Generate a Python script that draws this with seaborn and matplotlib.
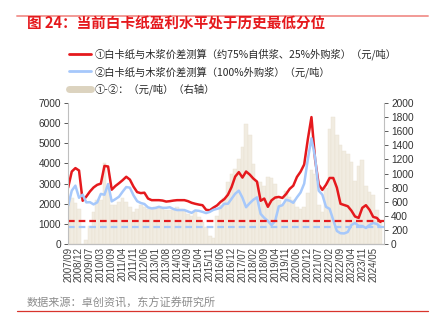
import matplotlib
matplotlib.use("Agg")
import matplotlib.pyplot as plt
from matplotlib.lines import Line2D
import numpy as np
import pandas as pd
import seaborn as sns

# ---------------- data ----------------
tick_labels = ["2007/09", "2008/12", "2009/07", "2010/03", "2010/09", "2011/04", "2011/11",
               "2012/06", "2013/01", "2013/08", "2014/03", "2014/09", "2015/04", "2015/11",
               "2016/06", "2016/12", "2017/07", "2018/02", "2018/09", "2019/04", "2019/11",
               "2020/06", "2020/12", "2021/07", "2022/02", "2022/09", "2023/04", "2023/11",
               "2024/05"]

spread_self = [2800, 3600, 3770, 3650, 2150, 2360, 2610, 2810, 2940, 3000,
               3880, 3850, 2700, 2880, 3020, 3170, 3340, 3200, 2850, 2580,
               2530, 2550, 2260, 2180, 2180, 2180, 2160, 2110, 2130, 2160,
               2180, 2180, 2180, 2130, 2050, 2000, 1960, 1930, 1700, 1680,
               1810, 1920, 2100, 2230, 2450, 2830, 3350, 3570, 3300, 3600,
               3450, 3250, 3100, 2150, 2260, 1850, 2170, 2310, 2340, 2290,
               2480, 2740, 2900, 3330, 3590, 3950, 5200, 6300, 4200, 2950,
               2690, 2940, 3280, 3280, 2800, 2000, 1940, 1880, 1660, 1370,
               1300, 1800, 1930, 1700, 1350, 1300, 1100]

spread_buy = [1900, 2650, 2900, 2300, 2450, 2070, 2080, 1970, 2070, 2490,
              2450, 2980, 2120, 2230, 2350, 2600, 2830, 2800, 2420, 2130,
              2040, 1990, 1820, 1770, 1790, 1850, 1800, 1800, 1830, 1740,
              1690, 1690, 1690, 1620, 1550, 1670, 1650, 1600, 1540, 1600,
              1700, 1750, 1800, 2000, 2000, 2250, 2500, 2650, 2300, 1830,
              2030, 2200, 2320, 1500, 1300, 1150, 940, 1150, 1870, 1930,
              2200, 2150, 2050, 2320, 2560, 3000, 4200, 5250, 4300, 2650,
              2450, 1850, 1750, 1200, 650, 540, 530, 600, 950, 1050,
              900, 900, 800, 950, 1050, 1000, 850]

spread_diff = [580, 650, 580, 500, -30, 60, 260, 460, 620, 620,
               1150, 800, 550, 550, 600, 650, 600, 520, 450, 500,
               550, 530, 500, 510, 530, 510, 500, 490, 480, 500,
               530, 500, 470, 420, 400, 450, 380, 310, 240, 120,
               80, 400, 550, 660, 880, 990, 1070, 1200, 1380, 1700,
               1550, 1130, 880, 880, 820, 950, 930, 850, 620, 560,
               750, 670, 620, 530, 500, 520, 720, 1050, 1000, 550,
               460, 800, 1630, 1800, 1550, 1400, 1320, 1270, 1160, 900,
               1100, 1190, 820, 740, 700, 480, 320]

current_self = 1130
current_buy = 860

# ---------------- style ----------------
sns.set_theme(style="white")
plt.rcParams["font.family"] = ["Liberation Sans", "Noto Sans CJK SC", "DejaVu Sans"]
plt.rcParams["axes.unicode_minus"] = False

RED = "#e5191d"
BLUE = "#a6c8fb"
BEIGE = "#f1ece1"
BEIGE_LEG = "#dcd3bf"
GREY = "#404040"

n = len(spread_self)
df = pd.DataFrame({"idx": np.arange(n), "self": spread_self, "buy": spread_buy, "diff": spread_diff})

fig = plt.figure(figsize=(4.34, 3.29), dpi=100)
ax1 = fig.add_axes([0.157, 0.258, 0.728, 0.429])
ax2 = ax1.twinx()

# bars on right axis
sns.barplot(data=df, x="idx", y="diff", ax=ax2, color=BEIGE, width=1.0,
            saturation=1, linewidth=0.3, edgecolor="#e9e2d2", native_scale=True)

# lines on left axis
sns.lineplot(data=df, x="idx", y="self", ax=ax1, color=RED, linewidth=1.8)
sns.lineplot(data=df, x="idx", y="buy", ax=ax1, color=BLUE, linewidth=1.8)
ax1.axhline(current_self, color=RED, linewidth=1.6, linestyle=(0, (3, 1.8)))
ax1.axhline(current_buy, color=BLUE, linewidth=1.6, linestyle=(0, (3, 1.8)))

ax1.set_zorder(ax2.get_zorder() + 1)
ax1.patch.set_visible(False)

ax1.set_xlim(0, n)
ax2.set_xlim(0, n)
ax1.set_ylim(0, 7000)
ax2.set_ylim(0, 2000)
ax1.set_yticks(np.arange(0, 7001, 1000))
ax2.set_yticks(np.arange(0, 2001, 200))
ax1.set_xticks(np.arange(len(tick_labels)) * 3)
ax1.set_xticklabels(tick_labels, rotation=90, fontsize=7, color=GREY)
ax1.tick_params(axis="y", labelsize=7.3, colors=GREY, length=3, width=0.6, left=True, pad=2)
ax2.tick_params(axis="y", labelsize=7.3, colors=GREY, length=3, width=0.6, right=True, pad=2)
ax1.tick_params(axis="x", length=0, pad=2)
ax2.tick_params(axis="x", length=0, labelbottom=False)
for a in (ax1, ax2):
    a.set_xlabel("")
    a.set_ylabel("")
    a.grid(False)
    a.spines["top"].set_visible(False)
    for s in ("left", "right", "bottom"):
        a.spines[s].set_color("#bfbfbf")
        a.spines[s].set_linewidth(0.8)
ax1.spines["right"].set_visible(False)
ax2.spines["left"].set_visible(False)
for lab in ax1.get_yticklabels() + ax2.get_yticklabels():
    lab.set_color("#333333")

# legend
handles = [Line2D([], [], color=RED, lw=2),
           Line2D([], [], color=BLUE, lw=2),
           Line2D([], [], color=BEIGE_LEG, lw=5)]
labels = ["①白卡纸与木浆价差测算（约75%自供浆、25%外购浆）（元/吨）",
          "②白卡纸与木浆价差测算（100%外购浆）（元/吨）",
          "①-②：（元/吨）（右轴）"]
fig.legend(handles, labels, loc="upper left", bbox_to_anchor=(0.158, 0.852),
           frameon=False, handlelength=2.2, handletextpad=0.35,
           labelspacing=0.55, borderpad=0, borderaxespad=0,
           prop={"family": ["Noto Sans CJK SC"], "size": 7.4})

# title, source, decorative rules
fig.text(0.062, 0.927, "图 24：当前白卡纸盈利水平处于历史最低分位", color=RED,
         fontsize=10.5, fontweight="bold", va="center", ha="left",
         family=["Noto Sans CJK SC"])
fig.text(0.062, 0.079, "数据来源：卓创资讯，东方证券研究所", color="#8c8c8c",
         fontsize=8, va="center", ha="left", family=["Noto Sans CJK SC"])
fig.add_artist(Line2D([0.039, 0.986], [0.952, 0.952], color="#f29a96", lw=1.4,
                      transform=fig.transFigure))
fig.add_artist(Line2D([0.039, 0.986], [0.056, 0.056], color="#d8342c", lw=0.9,
                      transform=fig.transFigure))

fig.savefig("out.png", dpi=100)
